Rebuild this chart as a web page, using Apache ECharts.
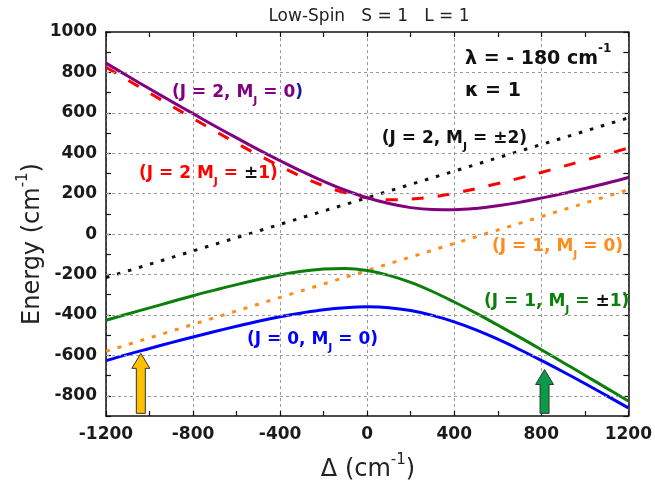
<!DOCTYPE html>
<html><head><meta charset="utf-8">
<script src="https://cdn.jsdelivr.net/npm/echarts@6/dist/echarts.min.js"></script>
<style>html,body{margin:0;padding:0;background:#fff}#c{width:655px;height:487px}</style>
</head><body><div id="c"></div>
<script>
// ---- data ----
const deltas = [-1200,-1100,-1000,-900,-800,-700,-600,-500,-400,-300,-200,-100,0,100,200,300,400,500,600,700,800,900,1000,1100,1200];
const j2m0  = [846,782,719,657,596,535,476,418,363,310,261,217,180,151,131,122,121,127,140,157,178,201,226,252,280];
const j0m0  = [-626,-595,-566,-537,-509,-482,-456,-431,-409,-390,-374,-364,-360,-364,-378,-402,-434,-474,-520,-571,-625,-681,-739,-799,-860];
const j2m1  = [826,762,698,635,572,510,450,391,336,284,239,204,180,170,173,184,202,225,250,277,305,335,365,395,426];
const j1m1  = [-426,-395,-365,-335,-305,-277,-250,-225,-202,-184,-173,-170,-180,-204,-239,-284,-336,-391,-450,-510,-572,-635,-698,-762,-826];
const linX  = [-1200, 1200];
const j2m2  = [-215, 575];
const j1m0  = [-580, 220];
const arrowX    = [-1040, 815];
const arrowTip  = [-590, -670];
const arrowBase = [-887, -887];
const arrowColors = ['#FFC000', '#0B9A4A'];
const gridY = [-800,-600,-400,-200,0,200,400,600,800];

const F = "'DejaVu Sans', sans-serif";
const pairs = (xs, ys) => xs.map((x, i) => [x, ys[i]]);

function rt(parts, size, lh, subSize, subLh, weight) {
  const rich = {}; let txt = '';
  parts.forEach((p, i) => {
    const k = 't' + i;
    txt += '{' + k + '|' + p[0] + '}';
    let s;
    if (p[2] === 'sub') s = {fontSize: subSize, lineHeight: subLh, verticalAlign: 'bottom'};
    else if (p[2] === 'sup') s = {fontSize: subSize, lineHeight: subLh, verticalAlign: 'top'};
    else s = {fontSize: size, lineHeight: lh};
    s.fill = p[1]; s.color = p[1]; s.fontFamily = F; s.fontWeight = weight;
    rich[k] = s;
  });
  return {text: txt, rich: rich};
}
function label(x, y, parts, opts) {
  opts = opts || {};
  const r = rt(parts, opts.size || 17, opts.lh || 28, opts.sub || 11, opts.subLh || 11, opts.weight || 'bold');
  return {type: 'text', x: x, y: y, rotation: opts.rot || 0, z: 100,
    style: {text: r.text, rich: r.rich, align: opts.align || 'left', verticalAlign: 'middle',
      fontFamily: F, fontSize: opts.size || 17, fontWeight: opts.weight || 'bold'}};
}

const axisLine = {show: true, onZero: false, lineStyle: {color: '#111', width: 1.5}};
const axisTick = {show: true, inside: true, length: 5, lineStyle: {color: '#111', width: 1.2}};
const minorTick = {show: true, splitNumber: 2, length: 5, lineStyle: {color: '#111', width: 1.2}};
const tickFont = {fontFamily: F, fontWeight: 'bold', fontSize: 17, color: '#1a1a1a'};

const chart = echarts.init(document.getElementById('c'), null, {renderer: 'canvas'});
const lineBase = {type: 'line', showSymbol: false, symbol: 'none', animation: false, silent: true, xAxisIndex: 0, yAxisIndex: 0};

chart.setOption({
  animation: false,
  backgroundColor: '#fff',
  grid: {left: 106, right: 26, top: 32, bottom: 71},
  xAxis: [
    {type: 'value', min: -1200, max: 1200, interval: 400, position: 'bottom',
     axisLine: axisLine, axisTick: axisTick, minorTick: minorTick,
     splitLine: {show: true, lineStyle: {color: '#9a9a9a', type: [3, 3], width: 1}},
     axisLabel: Object.assign({margin: 10, formatter: v => String(v)}, tickFont)},
    {type: 'value', min: -1200, max: 1200, interval: 400, position: 'top',
     axisLine: axisLine, axisTick: axisTick, minorTick: minorTick,
     splitLine: {show: false}, axisLabel: {show: false}}
  ],
  yAxis: [
    {type: 'value', min: -900, max: 1000, interval: 100, position: 'left',
     axisLine: axisLine, axisTick: axisTick, splitLine: {show: false},
     axisLabel: Object.assign({margin: 9, formatter: v => (v % 200 === 0 ? String(v) : '')}, tickFont)},
    {type: 'value', min: -900, max: 1000, interval: 100, position: 'right',
     axisLine: axisLine, axisTick: axisTick, splitLine: {show: false}, axisLabel: {show: false}}
  ],
  series: [
    Object.assign({}, lineBase, {data: [], z: 1,
      markLine: {silent: true, symbol: ['none', 'none'], label: {show: false}, animation: false,
        lineStyle: {color: '#9a9a9a', type: [3, 3], width: 1},
        data: gridY.map(v => ({yAxis: v}))}}),
    Object.assign({}, lineBase, {data: pairs(linX, j2m2), z: 3,
      lineStyle: {color: '#111', width: 3, type: [3.5, 8], cap: 'butt'}}),
    Object.assign({}, lineBase, {data: pairs(linX, j1m0), z: 3,
      lineStyle: {color: '#FF8C1A', width: 3, type: [4, 8], cap: 'butt'}}),
    Object.assign({}, lineBase, {data: pairs(deltas, j2m1), smooth: 0.4, z: 3,
      lineStyle: {color: '#FF0000', width: 3, type: [12, 14], cap: 'butt'}}),
    Object.assign({}, lineBase, {data: pairs(deltas, j2m0), smooth: 0.4, z: 4,
      lineStyle: {color: '#800080', width: 3}}),
    Object.assign({}, lineBase, {data: pairs(deltas, j1m1), smooth: 0.4, z: 4,
      lineStyle: {color: '#0A7F0A', width: 3}}),
    Object.assign({}, lineBase, {data: pairs(deltas, j0m0), smooth: 0.4, z: 4,
      lineStyle: {color: '#0000FF', width: 3}}),
    {type: 'custom', z: 6, silent: true, animation: false, xAxisIndex: 0, yAxisIndex: 0,
     data: arrowX.map((x, i) => [x, arrowTip[i], arrowBase[i]]),
     renderItem: function (params, api) {
       const tip = api.coord([api.value(0), api.value(1)]);
       const base = api.coord([api.value(0), api.value(2)]);
       const hw = 4.5, hh = 9, hl = 15, cx = tip[0];
       const pts = [[cx, tip[1]], [cx + hh, tip[1] + hl], [cx + hw, tip[1] + hl], [cx + hw, base[1]],
                    [cx - hw, base[1]], [cx - hw, tip[1] + hl], [cx - hh, tip[1] + hl]];
       return {type: 'polygon', shape: {points: pts},
         style: {fill: arrowColors[params.dataIndex], stroke: '#333', lineWidth: 1}};
     }}
  ],
  graphic: [
    label(369, 17, [['Low-Spin   S = 1   L = 1', '#222', 'n']], {size: 17, lh: 20, weight: 'normal', align: 'center'}),
    label(465, 59, [['λ = - 180 cm', '#111', 'n'], ['-1', '#111', 'sup']], {size: 19, lh: 32, sub: 12, subLh: 12}),
    label(465, 91, [['κ = 1', '#111', 'n']], {size: 19, lh: 24}),
    label(172, 93, [['(J = 2, M', '#800080', 'n'], ['J', '#800080', 'sub'], [' = 0', '#800080', 'n'], [')', '#1a1a9c', 'n']]),
    label(139, 173.5, [['(J = 2 M', '#FF0000', 'n'], ['J', '#FF0000', 'sub'], [' = ', '#FF0000', 'n'], ['±', '#111', 'n'], ['1)', '#FF0000', 'n']]),
    label(381.7, 139, [['(J = 2, M', '#111', 'n'], ['J', '#111', 'sub'], [' = ±2)', '#111', 'n']]),
    label(492, 246.5, [['(J = 1, M', '#FF8C1A', 'n'], ['J', '#FF8C1A', 'sub'], [' = 0)', '#FF8C1A', 'n']]),
    label(484, 302, [['(J = 1, M', '#0A7F0A', 'n'], ['J', '#0A7F0A', 'sub'], [' = ', '#0A7F0A', 'n'], ['±', '#111', 'n'], ['1)', '#0A7F0A', 'n']]),
    label(247, 340, [['(J = 0, M', '#0000FF', 'n'], ['J', '#0000FF', 'sub'], [' = 0)', '#0000FF', 'n']]),
    label(33, 244, [['Energy (cm', '#222', 'n'], ['-1', '#222', 'sup'], [')', '#222', 'n']], {size: 24, lh: 34, sub: 15, subLh: 15, weight: 'normal', align: 'center', rot: Math.PI / 2}),
    label(368, 470, [['Δ (cm', '#222', 'n'], ['-1', '#222', 'sup'], [')', '#222', 'n']], {size: 24, lh: 34, sub: 15, subLh: 15, weight: 'normal', align: 'center'})
  ]
});
</script>
</body></html>
